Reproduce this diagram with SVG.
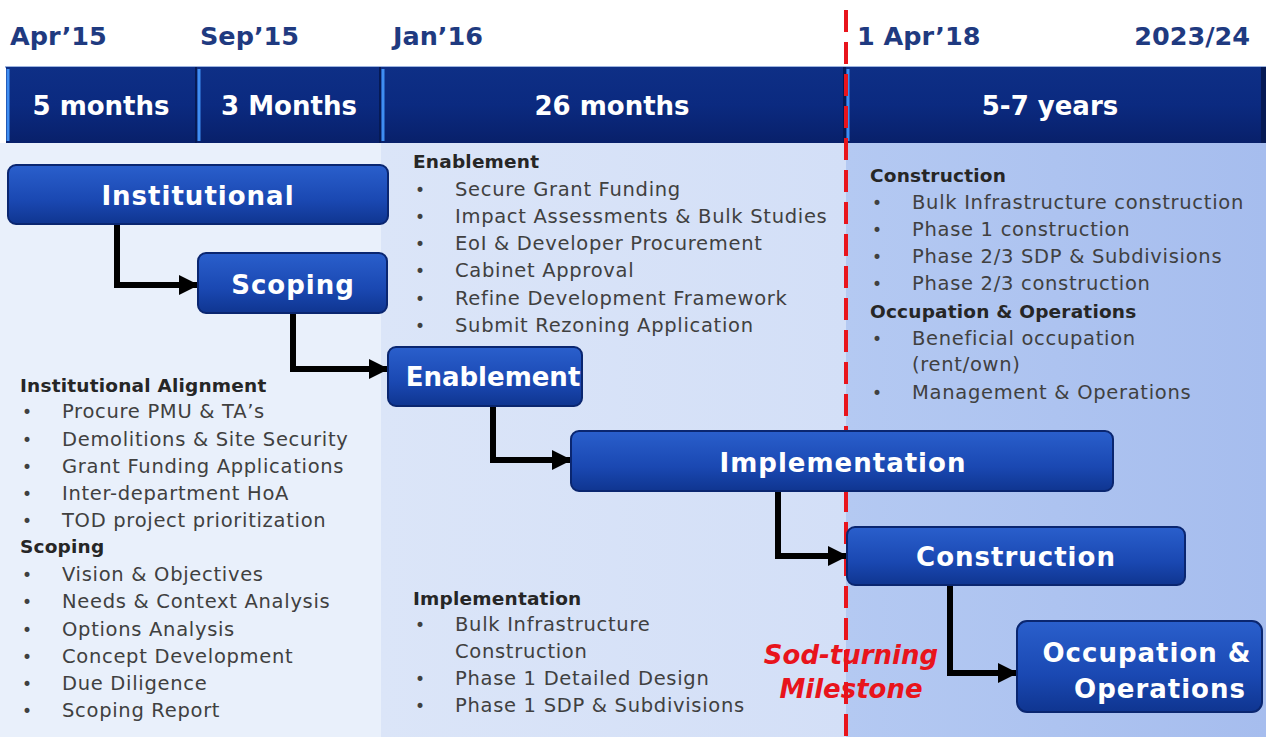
<svg xmlns="http://www.w3.org/2000/svg" width="1266" height="737" viewBox="0 0 1266 737">
<defs>
<linearGradient id="gNode" x1="0" y1="0" x2="0" y2="1">
<stop offset="0" stop-color="#2a5fcc"/>
<stop offset="0.6" stop-color="#1a48b2"/>
<stop offset="1" stop-color="#0f3590"/>
</linearGradient>
<linearGradient id="gHead" x1="0" y1="0" x2="0" y2="1">
<stop offset="0" stop-color="#0e2f86"/>
<stop offset="0.5" stop-color="#0b2a80"/>
<stop offset="1" stop-color="#08206a"/>
</linearGradient>
<linearGradient id="gRight" x1="0" y1="0" x2="1" y2="0">
<stop offset="0" stop-color="#b4c9f2"/>
<stop offset="1" stop-color="#a6bdee"/>
</linearGradient>
<linearGradient id="gMid" x1="0" y1="0" x2="1" y2="0">
<stop offset="0" stop-color="#dbe5f8"/>
<stop offset="1" stop-color="#d3dff7"/>
</linearGradient>
<marker id="arr" viewBox="0 0 20 20" refX="19" refY="10" markerWidth="20" markerHeight="20" markerUnits="userSpaceOnUse" orient="auto">
<path d="M0,0 L20,10 L0,20 z" fill="#000"/>
</marker>
</defs>
<style>
.date{font-family:"DejaVu Sans",sans-serif;font-weight:bold;font-size:25.5px;fill:#1f3a80}
.hd{font-family:"DejaVu Sans",sans-serif;font-weight:bold;font-size:26px;fill:#ffffff;text-anchor:middle}
.nd{font-family:"DejaVu Sans",sans-serif;font-weight:bold;font-size:26px;letter-spacing:1px;fill:#ffffff;text-anchor:middle}
.node rect{fill:url(#gNode);stroke:#0a2670;stroke-width:2}
.t{font-family:"DejaVu Sans",sans-serif;font-size:19.5px;letter-spacing:0.7px;fill:#404040}
.b{font-family:"DejaVu Sans",sans-serif;font-size:18.5px;letter-spacing:0.2px;font-weight:bold;fill:#262626}
.bl{font-family:"DejaVu Sans",sans-serif;font-size:17px;fill:#404040}
.conn path{fill:none;stroke:#000;stroke-width:6;stroke-linejoin:miter;marker-end:url(#arr)}
.ms{font-family:"DejaVu Sans",sans-serif;font-weight:bold;font-style:italic;font-size:26px;fill:#e8141c;text-anchor:middle}
.hseg{fill:url(#gHead)}
.hedge{stroke:#3f8ef2;stroke-width:3}
</style>
<rect x="0" y="0" width="1266" height="737" fill="#ffffff"/>
<!-- column backgrounds -->
<rect x="0" y="143" width="381" height="594" fill="#e9f0fb"/>
<rect x="381" y="143" width="465" height="594" fill="url(#gMid)"/>
<rect x="846" y="143" width="420" height="594" fill="url(#gRight)"/>
<!-- dates -->
<g id="dates">
<text class="date" x="10" y="45">Apr’15</text>
<text class="date" x="200" y="45">Sep’15</text>
<text class="date" x="393" y="45">Jan’16</text>
<text class="date" x="857" y="45">1 Apr’18</text>
<text class="date" x="1250" y="45" text-anchor="end">2023/24</text>
</g>
<!-- header bar -->
<g id="header">
<rect x="5" y="66" width="1261" height="2" fill="#9db4e0"/>
<rect class="hseg" x="6" y="67" width="191" height="76"/>
<rect class="hseg" x="197" y="67" width="184" height="76"/>
<rect class="hseg" x="381" y="67" width="465" height="76"/>
<rect class="hseg" x="846" y="67" width="420" height="76"/>
<line class="hedge" x1="8" y1="69" x2="8" y2="141"/>
<line class="hedge" x1="199" y1="69" x2="199" y2="141"/>
<line class="hedge" x1="383" y1="69" x2="383" y2="141"/>
<line class="hedge" x1="848" y1="69" x2="848" y2="141"/>
<rect x="195" y="67" width="2" height="76" fill="#061a55"/>
<rect x="379" y="67" width="2" height="76" fill="#061a55"/>
<rect x="843" y="67" width="3" height="76" fill="#061a55"/>
<rect x="1261" y="67" width="5" height="76" fill="#061a55"/>
<text class="hd" x="101" y="115">5 months</text>
<text class="hd" x="289" y="115">3 Months</text>
<text class="hd" x="612" y="115">26 months</text>
<text class="hd" x="1050" y="115">5-7 years</text>
</g>
<!-- milestone line -->
<line x1="846" y1="10" x2="846" y2="737" stroke="#e8141c" stroke-width="4" stroke-dasharray="22 10"/>
<!-- text blocks -->
<g id="notes-left">
<text class="b" x="20" y="392">Institutional Alignment</text>
<text class="bl" x="22" y="418">•</text><text class="t" x="62" y="418">Procure PMU &amp; TA’s</text>
<text class="bl" x="22" y="446">•</text><text class="t" x="62" y="446">Demolitions &amp; Site Security</text>
<text class="bl" x="22" y="473">•</text><text class="t" x="62" y="473">Grant Funding Applications</text>
<text class="bl" x="22" y="500">•</text><text class="t" x="62" y="500">Inter-department HoA</text>
<text class="bl" x="22" y="527">•</text><text class="t" x="62" y="527">TOD project prioritization</text>
<text class="b" x="20" y="553">Scoping</text>
<text class="bl" x="22" y="581">•</text><text class="t" x="62" y="581">Vision &amp; Objectives</text>
<text class="bl" x="22" y="608">•</text><text class="t" x="62" y="608">Needs &amp; Context Analysis</text>
<text class="bl" x="22" y="636">•</text><text class="t" x="62" y="636">Options Analysis</text>
<text class="bl" x="22" y="663">•</text><text class="t" x="62" y="663">Concept Development</text>
<text class="bl" x="22" y="690">•</text><text class="t" x="62" y="690">Due Diligence</text>
<text class="bl" x="22" y="717">•</text><text class="t" x="62" y="717">Scoping Report</text>
</g>
<g id="notes-enablement">
<text class="b" x="413" y="168">Enablement</text>
<text class="bl" x="415" y="196">•</text><text class="t" x="455" y="196">Secure Grant Funding</text>
<text class="bl" x="415" y="223">•</text><text class="t" x="455" y="223">Impact Assessments &amp; Bulk Studies</text>
<text class="bl" x="415" y="250">•</text><text class="t" x="455" y="250">EoI &amp; Developer Procurement</text>
<text class="bl" x="415" y="277">•</text><text class="t" x="455" y="277">Cabinet Approval</text>
<text class="bl" x="415" y="305">•</text><text class="t" x="455" y="305">Refine Development Framework</text>
<text class="bl" x="415" y="332">•</text><text class="t" x="455" y="332">Submit Rezoning Application</text>
</g>
<g id="notes-implementation">
<text class="b" x="413" y="605">Implementation</text>
<text class="bl" x="415" y="631">•</text><text class="t" x="455" y="631">Bulk Infrastructure</text>
<text class="t" x="455" y="658">Construction</text>
<text class="bl" x="415" y="685">•</text><text class="t" x="455" y="685">Phase 1 Detailed Design</text>
<text class="bl" x="415" y="712">•</text><text class="t" x="455" y="712">Phase 1 SDP &amp; Subdivisions</text>
</g>
<g id="notes-right">
<text class="b" x="870" y="182">Construction</text>
<text class="bl" x="872" y="209">•</text><text class="t" x="912" y="209">Bulk Infrastructure construction</text>
<text class="bl" x="872" y="236">•</text><text class="t" x="912" y="236">Phase 1 construction</text>
<text class="bl" x="872" y="263">•</text><text class="t" x="912" y="263">Phase 2/3 SDP &amp; Subdivisions</text>
<text class="bl" x="872" y="290">•</text><text class="t" x="912" y="290">Phase 2/3 construction</text>
<text class="b" x="870" y="318">Occupation &amp; Operations</text>
<text class="bl" x="872" y="345">•</text><text class="t" x="912" y="345">Beneficial occupation</text>
<text class="t" x="912" y="371">(rent/own)</text>
<text class="bl" x="872" y="399">•</text><text class="t" x="912" y="399">Management &amp; Operations</text>
</g>
<!-- connectors -->
<g id="connectors" class="conn">
<path d="M117,224 V285 H198"/>
<path d="M293,313 V369 H388"/>
<path d="M493,406 V460 H571"/>
<path d="M778,491 V556 H847"/>
<path d="M950,585 V673 H1017"/>
</g>
<!-- nodes -->
<g id="n-institutional" class="node">
<rect x="8" y="165" width="380" height="59" rx="8"/>
<text class="nd" x="198" y="205">Institutional</text>
</g>
<g id="n-scoping" class="node">
<rect x="198" y="253" width="189" height="60" rx="8"/>
<text class="nd" x="293" y="294">Scoping</text>
</g>
<g id="n-enablement" class="node">
<rect x="388" y="347" width="194" height="59" rx="8"/>
<text class="nd" x="493" y="386" style="letter-spacing:0">Enablement</text>
</g>
<g id="n-implementation" class="node">
<rect x="571" y="431" width="542" height="60" rx="8"/>
<text class="nd" x="843" y="472">Implementation</text>
</g>
<g id="n-construction" class="node">
<rect x="847" y="527" width="338" height="58" rx="8"/>
<text class="nd" x="1016" y="566">Construction</text>
</g>
<g id="n-occupation" class="node">
<rect x="1017" y="621" width="245" height="91" rx="10"/>
<text class="nd" x="1147" y="662">Occupation &amp;</text>
<text class="nd" x="1160" y="698">Operations</text>
</g>
<g id="milestone-label">
<text class="ms" x="851" y="664">Sod-turning</text>
<text class="ms" x="851" y="698">Milestone</text>
</g>
</svg>
